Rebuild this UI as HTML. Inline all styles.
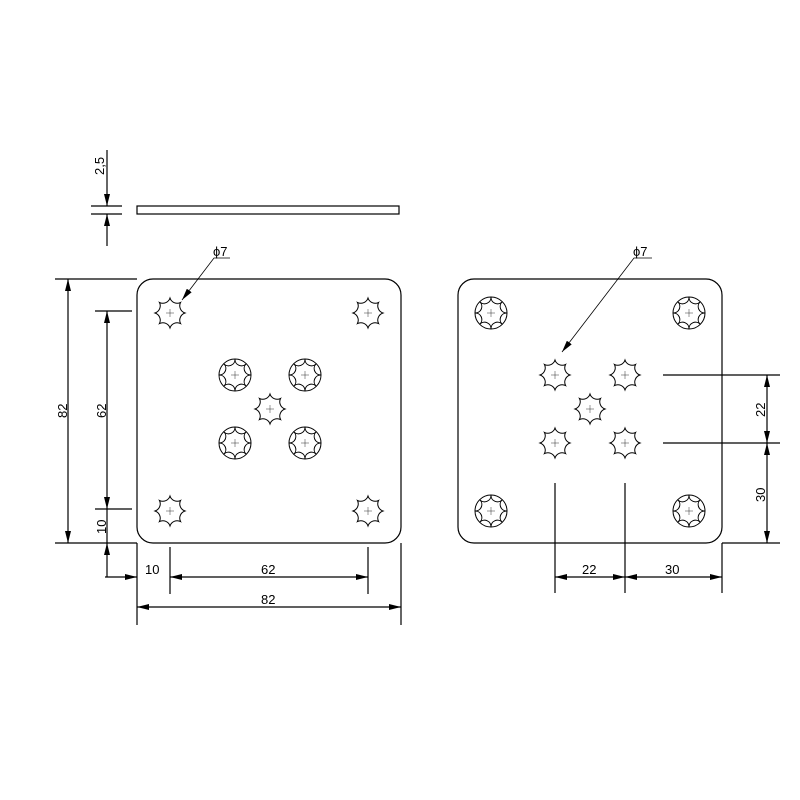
<!DOCTYPE html>
<html><head><meta charset="utf-8"><style>
html,body{margin:0;padding:0;background:#fff;}
svg{display:block;}
text{font-family:"Liberation Sans",sans-serif;font-size:13px;fill:#000;}
</style></head><body>
<svg id="s" width="800" height="800" viewBox="0 0 800 800" xmlns="http://www.w3.org/2000/svg">
<defs>
<marker id="a" viewBox="0 0 12 6" refX="12" refY="3" markerWidth="12" markerHeight="6" markerUnits="userSpaceOnUse" orient="auto-start-reverse"><path d="M0,0 L12,3 L0,6z" fill="#000"/></marker>
</defs>
<g stroke="#000" stroke-width="1.2" fill="none">
<rect x="137" y="206" width="262" height="8"/>
<line x1="91" y1="206" x2="122" y2="206"/><line x1="91" y1="214" x2="122" y2="214"/>
<line x1="107" y1="150" x2="107" y2="206" marker-end="url(#a)"/>
<line x1="107" y1="246" x2="107" y2="214" marker-end="url(#a)"/>
<rect x="137" y="279" width="264" height="264" rx="16"/>
<rect x="458" y="279" width="264" height="264" rx="16"/>
<line x1="55" y1="279" x2="137" y2="279"/>
<line x1="55" y1="543" x2="137" y2="543"/>
<line x1="95" y1="311" x2="132" y2="311"/>
<line x1="95" y1="509" x2="132" y2="509"/>
<line x1="68" y1="279" x2="68" y2="543" marker-start="url(#a)" marker-end="url(#a)"/>
<line x1="107" y1="311" x2="107" y2="509" marker-start="url(#a)" marker-end="url(#a)"/>
<line x1="107" y1="577" x2="107" y2="543" marker-end="url(#a)"/>
<line x1="107" y1="509" x2="107" y2="543"/>
<line x1="137" y1="543" x2="137" y2="625"/>
<line x1="401" y1="543" x2="401" y2="625"/>
<line x1="170" y1="547" x2="170" y2="594"/>
<line x1="368" y1="547" x2="368" y2="594"/>
<line x1="105" y1="577" x2="137" y2="577" marker-end="url(#a)"/>
<line x1="170" y1="577" x2="368" y2="577" marker-start="url(#a)" marker-end="url(#a)"/>
<line x1="137" y1="607" x2="401" y2="607" marker-start="url(#a)" marker-end="url(#a)"/>
<line x1="663" y1="375" x2="780" y2="375"/>
<line x1="663" y1="443" x2="780" y2="443"/>
<line x1="722" y1="543" x2="780" y2="543"/>
<line x1="767" y1="375" x2="767" y2="443" marker-start="url(#a)" marker-end="url(#a)"/>
<line x1="767" y1="443" x2="767" y2="543" marker-start="url(#a)" marker-end="url(#a)"/>
<line x1="555" y1="483" x2="555" y2="593"/>
<line x1="625" y1="483" x2="625" y2="593"/>
<line x1="722" y1="543" x2="722" y2="593"/>
<line x1="555" y1="577" x2="625" y2="577" marker-start="url(#a)" marker-end="url(#a)"/>
<line x1="625" y1="577" x2="722" y2="577" marker-start="url(#a)" marker-end="url(#a)"/>
<polyline points="230,258 214,258 182,300" stroke-width="0.8" marker-end="url(#a)"/>
<polyline points="652,258 634,258 562,352" stroke-width="0.8" marker-end="url(#a)"/>
<g id="holes" stroke-width="1"></g>
</g>
<text x="213" y="256">ϕ7</text>
<text x="633" y="256">ϕ7</text>
<text transform="translate(104,175) rotate(-90)">2,5</text>
<text transform="translate(67,418) rotate(-90)">82</text>
<text transform="translate(106,418) rotate(-90)">62</text>
<text transform="translate(106,534) rotate(-90)">10</text>
<text x="145" y="574">10</text>
<text x="261" y="574">62</text>
<text x="261" y="604">82</text>
<text transform="translate(765,417) rotate(-90)">22</text>
<text transform="translate(765,502) rotate(-90)">30</text>
<text x="582" y="574">22</text>
<text x="665" y="574">30</text>
</svg>
<script>
var g=document.getElementById('holes'),NS='http://www.w3.org/2000/svg';
function el(t,a){var e=document.createElementNS(NS,t);for(var k in a)e.setAttribute(k,a[k]);g.appendChild(e);}
function star(cx,cy,R,r,circ){
 var d='';for(var i=0;i<=8;i++){var t=(i*45-90)*Math.PI/180;var x=cx+R*Math.cos(t),y=cy+R*Math.sin(t);
 d+= i==0?'M'+x.toFixed(2)+','+y.toFixed(2):' A'+r+','+r+' 0 0 0 '+x.toFixed(2)+','+y.toFixed(2);}
 el('path',{d:d+'Z'});
 if(circ)el('circle',{cx:cx,cy:cy,r:R});
 el('path',{d:'M'+(cx-4)+','+cy+'h8M'+cx+','+(cy-4)+'v8','stroke-width':'0.4'});
}
[[170,313],[368,313],[170,511],[368,511],[270,409],[590,409],[555,375],[625,375],[555,443],[625,443]].forEach(function(p){star(p[0],p[1],15,7.5,false);});
[[235,375],[305,375],[235,443],[305,443],[491,313],[689,313],[491,511],[689,511]].forEach(function(p){star(p[0],p[1],16,6.5,true);});
</script>
</body></html>
